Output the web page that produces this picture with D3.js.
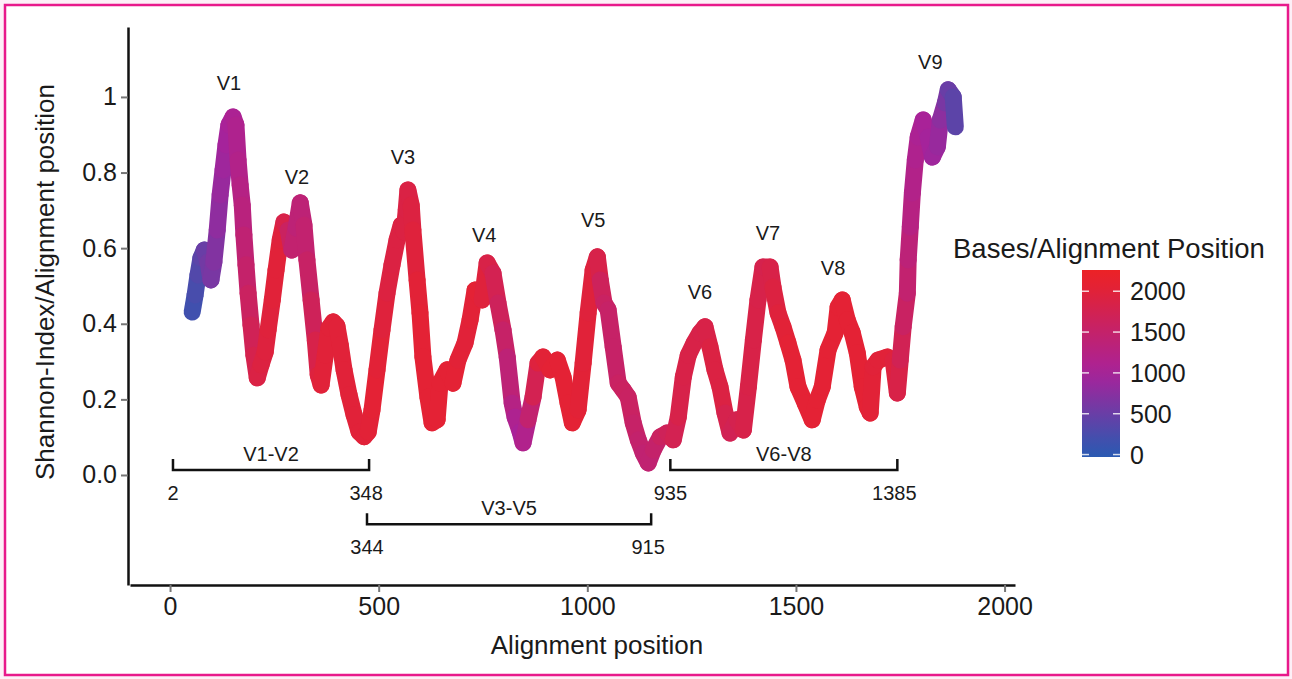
<!DOCTYPE html>
<html>
<head>
<meta charset="utf-8">
<script src="https://cdn.jsdelivr.net/npm/d3@7"></script>
<style>
body { margin: 0; background: #fdf0f7; }
svg text { font-family: "Liberation Sans", Arial, Helvetica, sans-serif; fill: #1a1a1a; }
</style>
</head>
<body>
<script>
// alignment position, shannon index and number of bases
var positions = [53,60,67,74,82,91,98,105,113,120,
  127,134,141,151,158,163,168,173,177,182,
  187,194,201,209,218,228,235,245,254,264,
  273,283,292,302,312,321,328,338,348,355,
  362,372,381,391,400,408,417,429,441,453,
  465,475,484,496,508,520,532,544,554,561,
  566,570,578,582,592,599,606,618,628,640,
  647,664,678,690,707,719,731,748,760,774,
  786,798,808,820,827,839,846,858,870,882,
  894,911,928,942,954,964,978,990,1002,1014,
  1024,1031,1040,1050,1062,1074,1086,1098,1110,1122,
  1134,1146,1158,1175,1191,1206,1218,1230,1242,1256,
  1270,1282,1294,1306,1318,1330,1342,1359,1374,1386,
  1398,1409,1421,1438,1445,1457,1469,1481,1493,1505,
  1522,1539,1551,1563,1577,1594,1601,1611,1623,1635,
  1647,1659,1671,1678,1685,1697,1719,1733,1743,1750,
  1757,1767,1769,1774,1779,1786,1793,1805,1817,1827,
  1839,1846,1858,1865,1877,1882];

var shannon = [0.431,0.476,0.529,0.574,0.595,0.563,0.516,0.563,0.648,0.741,
  0.807,0.873,0.926,0.947,0.926,0.833,0.767,0.714,0.635,0.556,
  0.481,0.397,0.317,0.257,0.291,0.325,0.384,0.463,0.542,0.622,
  0.669,0.648,0.595,0.653,0.720,0.661,0.569,0.463,0.357,0.265,
  0.238,0.317,0.389,0.405,0.394,0.344,0.278,0.212,0.159,0.114,
  0.101,0.114,0.172,0.278,0.384,0.481,0.556,0.622,0.661,0.643,
  0.701,0.754,0.714,0.648,0.516,0.429,0.312,0.206,0.138,0.146,
  0.243,0.278,0.243,0.304,0.349,0.410,0.489,0.463,0.561,0.534,
  0.455,0.384,0.312,0.190,0.153,0.114,0.085,0.146,0.206,0.296,
  0.312,0.278,0.304,0.259,0.190,0.138,0.172,0.296,0.429,0.542,
  0.577,0.516,0.455,0.437,0.339,0.243,0.225,0.206,0.138,0.093,
  0.058,0.032,0.066,0.101,0.111,0.093,0.153,0.259,0.317,0.349,
  0.376,0.392,0.339,0.278,0.233,0.164,0.111,0.146,0.119,0.233,
  0.357,0.463,0.550,0.550,0.497,0.429,0.392,0.349,0.304,0.233,
  0.190,0.146,0.198,0.233,0.331,0.376,0.444,0.463,0.410,0.376,
  0.323,0.233,0.180,0.164,0.286,0.304,0.312,0.304,0.217,0.304,
  0.392,0.481,0.569,0.656,0.746,0.833,0.894,0.939,0.894,0.841,
  0.868,0.939,0.984,1.019,1.000,0.921];

var bases = [150,200,280,350,450,550,600,650,750,850,
  900,950,1000,1050,1100,1150,1200,1250,1350,1450,
  1550,1650,1750,1850,1900,1950,1950,2000,2000,2000,
  1950,1700,1500,1400,1350,1400,1500,1600,1750,1900,
  2000,2000,2000,2000,2000,2000,2000,2000,2000,2000,
  2000,2000,2050,2050,2000,1950,1900,1900,1900,1900,
  1900,1850,1900,1950,2000,2050,2050,2050,2050,2050,
  2050,2050,2050,2050,2000,2000,2050,2050,1900,1800,
  1700,1600,1450,1300,1150,1050,1000,1300,1600,1900,
  2000,2050,2050,2050,2050,2050,2050,2000,2000,1950,
  1950,1700,1600,1550,1500,1550,1600,1600,1550,1500,
  1450,1400,1450,1550,1650,1700,1800,1850,1850,1850,
  1850,1800,1900,1900,1900,1900,1700,1750,1800,1850,
  1850,1850,1800,1800,1900,1950,2000,2050,2050,2050,
  2050,2050,2050,2050,2050,2050,2050,2050,2050,2050,
  2050,2050,2050,2050,2000,2000,2000,2000,1900,1800,
  1650,1500,1400,1300,1200,1150,1100,1050,1000,950,
  900,850,700,550,450,350];

var xTicks = [0, 500, 1000, 1500, 2000];
var yTicks = [0, 0.2, 0.4, 0.6, 0.8, 1];
var yTickLabels = ["0.0", "0.2", "0.4", "0.6", "0.8", "1"];
var legendTicks = [0, 500, 1000, 1500, 2000];

// variable region labels
var regionNames = ["V1", "V2", "V3", "V4", "V5", "V6", "V7", "V8", "V9"];
var regionPos = [141, 304, 558, 753, 1014, 1270, 1433, 1589, 1822];
var regionVal = [1.037, 0.788, 0.841, 0.635, 0.675, 0.484, 0.640, 0.548, 1.093];

// amplicon brackets
var bracketNames = ["V1-V2", "V3-V5", "V6-V8"];
var bracketFrom = [7, 472, 1199];
var bracketTo = [477, 1153, 1743];
var bracketFromLabel = ["2", "344", "935"];
var bracketToLabel = ["348", "915", "1385"];
var bracketLevel = [0.013, -0.13, 0.013];

var W = 1292, H = 679;

var svg = d3.select("body").append("svg")
    .attr("width", W)
    .attr("height", H);

svg.append("rect")
    .attr("x", 5).attr("y", 5)
    .attr("width", 1283).attr("height", 670)
    .attr("fill", "#fff")
    .attr("stroke", "#e8198b")
    .attr("stroke-width", 2.5);

var x = d3.scaleLinear().domain([-96, 2025]).range([130, 1015]);
var y = d3.scaleLinear().domain([-0.291, 1.185]).range([585, 27]);
var color = d3.scaleLinear()
    .domain([0, 1000, 2200])
    .range(["#2a5ab2", "#a8229a", "#ec2226"])
    .clamp(true);

var pts = positions.map(function(p, i){ return {p: p, s: shannon[i], b: bases[i]}; });

svg.append("g").selectAll("line")
    .data(d3.pairs(pts))
    .enter().append("line")
    .attr("x1", function(d){ return x(d[0].p); })
    .attr("y1", function(d){ return y(d[0].s); })
    .attr("x2", function(d){ return x(d[1].p); })
    .attr("y2", function(d){ return y(d[1].s); })
    .attr("stroke", function(d){ return color((d[0].b + d[1].b) / 2); })
    .attr("stroke-width", 17)
    .attr("stroke-linecap", "round");

// axes
var xAxis = d3.axisBottom(x).tickValues(xTicks).tickFormat(d3.format("d"))
    .tickSize(7).tickSizeOuter(0).tickPadding(5);
var yAxis = d3.axisLeft(y).tickValues(yTicks)
    .tickFormat(function(d, i){ return yTickLabels[i]; })
    .tickSize(7).tickSizeOuter(0).tickPadding(4);

var gx = svg.append("g").attr("transform", "translate(0,585)").call(xAxis);
var gy = svg.append("g").attr("transform", "translate(128,0)").call(yAxis);

[gx, gy].forEach(function(g){
  g.select(".domain").attr("stroke", "#111").attr("stroke-width", 2.5);
  g.selectAll(".tick line").attr("stroke", "#777").attr("stroke-width", 2);
  g.selectAll(".tick text").attr("font-size", 25).attr("fill", "#1a1a1a")
    .style("font-family", '"Liberation Sans", Arial, sans-serif');
});

svg.append("text")
    .attr("x", 597).attr("y", 654)
    .attr("text-anchor", "middle")
    .attr("font-size", 26)
    .text("Alignment position");

svg.append("text")
    .attr("transform", "translate(54,282) rotate(-90)")
    .attr("text-anchor", "middle")
    .attr("font-size", 26)
    .text("Shannon-Index/Alignment position");

// region labels
svg.append("g").selectAll("text")
    .data(regionNames)
    .enter().append("text")
    .attr("x", function(d, i){ return x(regionPos[i]); })
    .attr("y", function(d, i){ return y(regionVal[i]); })
    .attr("text-anchor", "middle")
    .attr("dominant-baseline", "central")
    .attr("font-size", 20)
    .text(function(d){ return d; });

// brackets
var br = svg.append("g").selectAll("g")
    .data(bracketNames)
    .enter().append("g");

br.append("path")
    .attr("fill", "none")
    .attr("stroke", "#111")
    .attr("stroke-width", 2.5)
    .attr("d", function(d, i){
      var x0 = x(bracketFrom[i]), x1 = x(bracketTo[i]), yy = y(bracketLevel[i]);
      return "M" + x0 + "," + (yy - 11) + "V" + yy + "H" + x1 + "V" + (yy - 11);
    });

br.append("text")
    .attr("x", function(d, i){ return (x(bracketFrom[i]) + x(bracketTo[i])) / 2; })
    .attr("y", function(d, i){ return y(bracketLevel[i]) - 16; })
    .attr("text-anchor", "middle")
    .attr("dominant-baseline", "central")
    .attr("font-size", 20)
    .text(function(d){ return d; });

br.append("text")
    .attr("x", function(d, i){ return x(bracketFrom[i]); })
    .attr("y", function(d, i){ return y(bracketLevel[i]) + 23; })
    .attr("text-anchor", "middle")
    .attr("dominant-baseline", "central")
    .attr("font-size", 20)
    .text(function(d, i){ return bracketFromLabel[i]; });

br.append("text")
    .attr("x", function(d, i){ return x(bracketTo[i]) - 3; })
    .attr("y", function(d, i){ return y(bracketLevel[i]) + 23; })
    .attr("text-anchor", "middle")
    .attr("dominant-baseline", "central")
    .attr("font-size", 20)
    .text(function(d, i){ return bracketToLabel[i]; });

// legend
var lg = d3.scaleLinear().domain([-30, 2260]).range([457, 270]);

var grad = svg.append("defs").append("linearGradient")
    .attr("id", "basesGrad")
    .attr("x1", 0).attr("y1", 1).attr("x2", 0).attr("y2", 0);

grad.selectAll("stop")
    .data(d3.range(0, 1.0001, 0.1))
    .enter().append("stop")
    .attr("offset", function(d){ return d; })
    .attr("stop-color", function(d){ return color(lg.domain()[0] + d * (lg.domain()[1] - lg.domain()[0])); });

svg.append("text")
    .attr("x", 953).attr("y", 248)
    .attr("dominant-baseline", "central")
    .attr("font-size", 27.5)
    .text("Bases/Alignment Position");

svg.append("rect")
    .attr("x", 1082).attr("y", lg.range()[1])
    .attr("width", 38).attr("height", lg.range()[0] - lg.range()[1])
    .attr("fill", "url(#basesGrad)");

var lt = svg.append("g").selectAll("g")
    .data(legendTicks)
    .enter().append("g")
    .attr("transform", function(d){ return "translate(0," + lg(d) + ")"; });

lt.append("line").attr("x1", 1082).attr("x2", 1089).attr("stroke", "#fff").attr("stroke-width", 1.5).attr("opacity", 0.8);
lt.append("line").attr("x1", 1113).attr("x2", 1120).attr("stroke", "#fff").attr("stroke-width", 1.5).attr("opacity", 0.8);
lt.append("text")
    .attr("x", 1130)
    .attr("dominant-baseline", "central")
    .attr("font-size", 25)
    .text(function(d){ return d; });
</script>
</body>
</html>
